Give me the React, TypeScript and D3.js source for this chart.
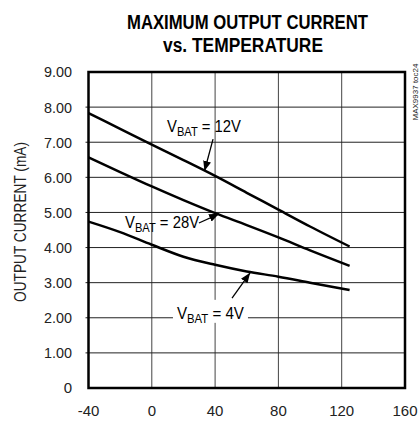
import * as d3 from 'd3';

// temperatures (°C) at which curves were read
const temps = [-40, -20, 0, 20, 40, 60, 80, 100, 125];
const vbat12 = [7.83, 7.38, 6.93, 6.49, 6.04, 5.56, 5.08, 4.6, 4.03];
const vbat28 = [6.57, 6.15, 5.74, 5.35, 4.98, 4.64, 4.29, 3.92, 3.48];
const vbat4 = [4.74, 4.44, 4.08, 3.74, 3.51, 3.32, 3.17, 3.0, 2.79];

const xTicks = [-40, 0, 40, 80, 120, 160];
const yTicks = [0, 1, 2, 3, 4, 5, 6, 7, 8, 9];

// annotation labels: [label temp, label value], arrow tail, arrow tip (data units)
const notes = [
    {sub: "BAT", rest: " = 12V", pos: [9.6, 7.3], tail: [38.7, 7.09], tip: [33.3, 6.18], box: false},
    {sub: "BAT", rest: " = 28V", pos: [-16.9, 4.56], tail: [29.8, 4.7], tip: [42.5, 4.96], box: false},
    {sub: "BAT", rest: " = 4V", pos: [15.9, 1.97], tail: [50.7, 2.56], tip: [62.1, 3.28], box: true},
];

const font = "'Liberation Sans', Arial, sans-serif";

const App = () => {
    const x = d3.scaleLinear().domain([-40, 160]).range([88.5, 405]);
    const y = d3.scaleLinear().domain([0, 9]).range([388, 72]);

    const line = d3.line<[number, number]>()
        .x(d => x(d[0]))
        .y(d => y(d[1]))
        .curve(d3.curveMonotoneX);

    const series = [vbat12, vbat28, vbat4];

    return (
        <svg width={420} height={421} style={{position: "absolute", left: 0, top: 0, background: "white"}} fontFamily={font}>
            <defs>
                <marker id="ah" viewBox="0 0 10 8" refX="10" refY="4" markerWidth="10" markerHeight="8" markerUnits="userSpaceOnUse" orient="auto">
                    <path d="M0,0 L10,4 L0,8 Z" fill="black" />
                </marker>
            </defs>

            <text x={247.5} y={29} textAnchor="middle" fontWeight="bold" fontSize="20px" textLength={241} lengthAdjust="spacingAndGlyphs">MAXIMUM OUTPUT CURRENT</text>
            <text x={243} y={52} textAnchor="middle" fontWeight="bold" fontSize="20px" textLength={160} lengthAdjust="spacingAndGlyphs">vs. TEMPERATURE</text>

            {/* grid */}
            {xTicks.slice(1, -1).map(t => (
                <line key={"gx" + t} x1={x(t)} x2={x(t)} y1={y(9)} y2={y(0)} stroke="#444" strokeWidth={1} />
            ))}
            {yTicks.slice(1, -1).map(t => (
                <line key={"gy" + t} x1={x(-40) - 3} x2={x(160)} y1={y(t)} y2={y(t)} stroke="#222" strokeWidth={1} />
            ))}

            {/* curves */}
            {series.map((s, i) => (
                <path key={i} d={line(temps.map((t, j) => [t, s[j]] as [number, number])) ?? ""} fill="none" stroke="black" strokeWidth={2.5} />
            ))}

            {/* annotations */}
            {notes.map((n, i) => (
                <g key={"n" + i}>
                    {n.box && <rect x={x(n.pos[0]) - 4} y={y(n.pos[1]) - 19} width={75} height={23} fill="white" />}
                    <text x={x(n.pos[0])} y={y(n.pos[1])} fontSize="16px" textLength={n.rest.length > 5 ? 74 : 67} lengthAdjust="spacingAndGlyphs">
                        V<tspan fontSize="12px" dy={4}>{n.sub}</tspan><tspan dy={-4}>{n.rest}</tspan>
                    </text>
                    <line x1={x(n.tail[0])} y1={y(n.tail[1])} x2={x(n.tip[0])} y2={y(n.tip[1])} stroke="black" strokeWidth={1.3} markerEnd="url(#ah)" />
                </g>
            ))}

            {/* frame */}
            <rect x={x(-40)} y={y(9)} width={x(160) - x(-40)} height={y(0) - y(9)} fill="none" stroke="black" strokeWidth={2.5} />

            {/* tick labels */}
            {yTicks.map(t => (
                <text key={"ty" + t} x={72} y={y(t)} dy="0.36em" textAnchor="end" fontSize="15px" fill="#222" textLength={t === 0 ? undefined : 28} lengthAdjust="spacingAndGlyphs">
                    {t === 0 ? "0" : d3.format(".2f")(t)}
                </text>
            ))}
            {xTicks.map(t => (
                <text key={"tx" + t} x={x(t)} y={416} textAnchor="middle" fontSize="15px" fill="#222">{t}</text>
            ))}

            <text transform={`translate(26,222) rotate(-90)`} textAnchor="middle" fontSize="16px" fill="#222" textLength={160} lengthAdjust="spacingAndGlyphs">OUTPUT CURRENT (mA)</text>
            <text transform={`translate(418,92) rotate(-90)`} textAnchor="middle" fontSize="8px" fill="#222">MAX9937 toc24</text>
        </svg>
    );
};

export default App;
